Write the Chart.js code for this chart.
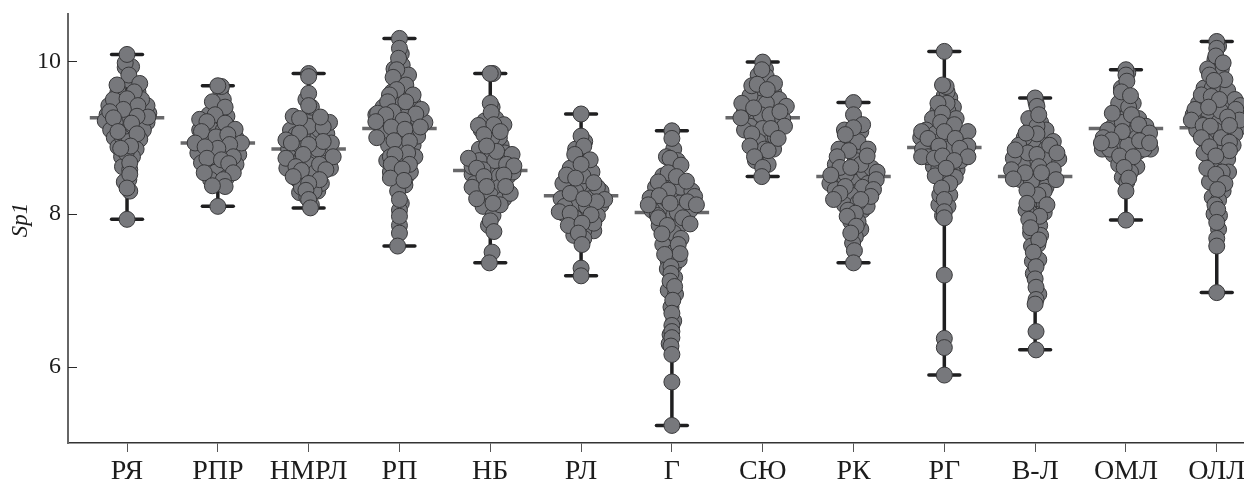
<!DOCTYPE html>
<html>
<head>
<meta charset="utf-8">
<title>Sp1</title>
<script src="https://cdn.jsdelivr.net/npm/chart.js@4/dist/chart.umd.min.js"></script>
<style>
html, body { margin: 0; padding: 0; background: #fff; }
#wrap { width: 1244px; height: 482px; position: relative; }
</style>
</head>
<body>
<div id="wrap"><canvas id="myChart"></canvas></div>
<script>
var categories = ['РЯ', 'РПР', 'НМРЛ', 'РП', 'НБ', 'РЛ', 'Г', 'СЮ', 'РК', 'РГ', 'В-Л', 'ОМЛ', 'ОЛЛ'];
var yTicks = [6, 8, 10];
var medians = [9.26, 8.93, 8.85, 9.12, 8.57, 8.24, 8.02, 9.26, 8.49, 8.87, 8.49, 9.12, 9.13];
var minima = [7.93, 8.10, 8.08, 7.58, 7.36, 7.19, 5.23, 8.49, 7.36, 5.89, 6.22, 7.92, 6.97];
var maxima = [10.09, 9.68, 9.84, 10.30, 9.84, 9.31, 9.09, 9.99, 9.46, 10.13, 9.52, 9.89, 10.26];

// each point is [offset from the category, Sp1]
var swarmRYa = [[-.08,9.15],[.08,9.35],[-.08,9.5],[.08,8.95],[0,9.25],[-.13,9.2],[.16,9.2],[-.22,9.3],[-.24,9.22],[.24,9.32],[.22,9.2],[-.2,9.42],[.22,9.42],[-.18,9.1],[.18,9.1],[-.14,9.0],[.14,8.98],[-.1,8.88],[.1,8.85],[-.06,8.75],[.06,8.75],[-.05,8.62],[.03,8.58],[.02,8.45],[-.03,8.42],[.03,8.3],[-.02,9.92],[.03,9.75],[-.1,9.6],[.12,9.6],[-.15,9.5],[.16,9.5],[.02,9.4],[.05,9.1],[-.05,9.0],[.02,8.95],[-.01,8.8],
  [.05,9.93],[-.02,9.98],[.02,9.82],[-.11,9.69],[.14,9.71],[.08,9.6],[0,9.51],[.12,9.42],[-.04,9.37],[-.19,9.34],[.23,9.27],[-.15,9.26],[.11,9.28],[.05,9.19],[-.1,9.08],[.11,9.05],[.04,8.89],[-.07,8.86],[.03,8.67],[.03,8.52],[0,8.34],[0,7.93],[0,10.09]];
var swarmRPR = [[.02,9.15],[-.06,9.1],[.14,9.0],[-.14,8.98],[.1,8.78],[-.08,8.8],[.02,8.62],[-.1,8.65],[.16,8.85],[-.18,8.85],[.1,9.15],[.03,9.62],[.06,9.5],[-.1,9.3],[.1,9.28],[-.2,9.1],[.2,9.0],[-.1,9.0],[.06,9.1],[-.22,8.8],[.23,8.78],[-.04,8.75],[.05,8.85],[-.12,8.55],[.2,8.65],[.07,8.6],[-.02,8.55],[.1,8.48],[-.08,8.45],[.04,8.4],
  [.04,9.67],[0,9.68],[-.06,9.47],[.08,9.4],[-.03,9.3],[-.2,9.24],[-.12,9.21],[.08,9.19],[.19,9.11],[-.18,9.08],[-.02,9.01],[.11,9.04],[-.25,8.93],[.26,8.93],[.13,8.91],[0,8.86],[-.14,8.88],[.17,8.75],[-.18,8.67],[-.12,8.73],[.04,8.71],[.12,8.66],[-.15,8.54],[.17,8.54],[.06,8.45],[.08,8.36],[-.06,8.37],[0,8.1]];
var swarmNMRL = [[.05,9.25],[-.05,9.05],[.05,9.05],[-.14,8.78],[.14,8.78],[.02,8.98],[-.03,8.55],[.06,8.68],[-.18,8.62],[.2,8.75],[0,8.42],[.1,8.3],[-.1,8.28],[-.2,8.85],[.1,9.0],[-.03,9.5],[.03,9.4],[-.1,9.1],[.12,9.1],[-.2,9.1],[.2,9.05],[0,9.15],[-.22,8.85],[.22,8.85],[.03,8.8],[-.1,8.9],[.1,8.85],[-.24,8.6],[.24,8.6],[0,8.65],[.08,8.55],[-.12,8.45],[.14,8.4],[-.08,8.35],[.06,8.3],[-.02,8.22],[.03,8.12],
  [0,9.84],[0,9.8],[0,9.58],[0,9.42],[-.17,9.28],[.23,9.2],[.16,9.14],[-.1,9.25],[.13,9.27],[-.14,9.04],[-.1,9.06],[-.25,8.97],[.25,8.93],[-.19,8.93],[.16,8.95],[0,8.91],[-.06,8.78],[-.25,8.73],[.27,8.75],[.12,8.65],[.19,8.58],[-.14,8.62],[-.08,8.57],[-.17,8.49],[.12,8.45],[0,8.4],[-.03,8.31],[0,8.19],[.02,8.08]];
var swarmRP = [[.05,9.3],[-.02,9.45],[.02,9.7],[-.06,9.9],[.08,9.6],[-.16,9.2],[.14,9.18],[-.14,9.0],[.15,8.9],[.02,8.95],[-.08,8.8],[.12,8.7],[0,8.65],[-.14,8.7],[-.06,8.55],[.08,8.5],[.02,10.1],[.03,9.95],[.1,9.82],[-.08,9.6],[.15,9.45],[-.18,9.4],[.2,9.25],[-.26,9.3],[.28,9.2],[-.2,9.05],[.2,9.02],[.08,9.0],[-.12,8.9],[-.1,8.75],[.02,8.85],[.17,8.75],[-.04,8.6],[.12,8.55],[-.1,8.55],[.06,8.38],[-.02,8.3],[.02,8.14],[0,8.05],[0,7.85],
  [0,10.3],[0,10.17],[-.01,10.04],[-.03,9.89],[-.07,9.79],[.07,9.69],[-.03,9.63],[.15,9.56],[-.11,9.56],[-.13,9.47],[.07,9.47],[.24,9.37],[.18,9.31],[-.24,9.32],[-.07,9.34],[-.15,9.3],[-.26,9.21],[.04,9.23],[.23,9.14],[-.09,9.14],[.06,9.11],[-.25,9.0],[.11,8.95],[-.06,8.96],[.09,8.8],[-.05,8.78],[.11,8.65],[-.09,8.65],[.03,8.59],[-.1,8.47],[.05,8.44],[0,8.19],[0,7.97],[0,7.75],[-.02,7.58]];
var swarmNB = [[-.06,9.22],[.06,9.25],[-.02,9.0],[.12,8.9],[-.12,8.85],[.02,8.55],[-.1,8.5],[.1,8.5],[-.2,8.52],[.2,8.5],[-.04,8.2],[.08,8.22],[.02,9.4],[-.1,9.1],[.1,9.0],[.02,9.0],[-.02,8.8],[-.2,8.62],[.16,8.8],[-.12,8.7],[.05,8.7],[.25,8.55],[-.08,8.58],[.1,8.35],[-.17,8.4],[0,8.25],[-.08,8.1],[.15,8.2],[.03,7.98],[-.02,7.85],
  [.03,9.84],[0,9.84],[0,9.45],[.01,9.33],[-.13,9.16],[.15,9.17],[.04,9.17],[.11,9.08],[-.07,9.04],[.07,8.82],[-.04,8.89],[.24,8.78],[-.24,8.73],[.18,8.65],[.26,8.63],[-.15,8.6],[.15,8.51],[-.07,8.49],[.22,8.27],[-.2,8.35],[-.04,8.36],[.17,8.36],[-.15,8.2],[.11,8.12],[.03,8.14],[0,7.91],[.04,7.77],[.02,7.5],[-.01,7.36]];
var swarmRL = [[0,8.75],[.05,8.55],[-.05,8.62],[-.14,8.42],[.1,8.35],[-.02,8.38],[-.14,8.2],[.22,8.3],[.02,8.02],[.1,8.2],[-.02,8.12],[-.08,8.13],[-.18,8.0],[.06,7.85],[.04,8.95],[-.06,8.85],[.08,8.7],[-.12,8.6],[.12,8.55],[-.2,8.4],[.18,8.35],[.02,8.5],[-.22,8.2],[.22,8.12],[-.06,8.3],[.06,8.1],[-.18,8.1],[.18,7.98],[-.07,7.95],[.14,7.78],[-.08,7.72],[.03,7.78],[.03,7.68],
  [0,9.31],[0,9.02],[.03,8.89],[.1,8.71],[-.07,8.78],[0,8.65],[-.16,8.51],[-.06,8.47],[.14,8.41],[.26,8.19],[-.12,8.27],[.17,8.16],[.03,8.2],[-.24,8.03],[-.12,8.01],[.14,7.88],[.11,7.99],[-.14,7.85],[.01,7.88],[-.03,7.75],[.01,7.6],[0,7.29],[0,7.19]];
var swarmG = [[0,8.55],[.05,8.3],[-.08,8.38],[0,8.2],[.1,8.15],[-.1,8.1],[.02,7.98],[.08,7.85],[-.02,7.65],[.05,7.62],[-.06,7.52],[.02,7.32],[.02,8.85],[-.06,8.75],[.06,8.7],[-.1,8.5],[.1,8.35],[-.18,8.35],[.22,8.3],[.2,8.05],[-.22,8.05],[-.06,8.2],[.06,8.02],[.12,7.95],[-.16,7.98],[.02,7.75],[-.14,7.85],[.1,7.68],[-.1,7.6],[.02,7.5],[-.04,7.38],[.08,7.4],[-.05,7.28],[.03,7.17],[-.04,7.0],[.04,6.95],[-.01,6.78],[.02,6.6],[-.02,6.42],[-.03,6.3],
  [0,9.09],[0,8.99],[-.02,8.73],[.1,8.64],[-.04,8.54],[.05,8.49],[.16,8.43],[-.15,8.42],[-.04,8.31],[.25,8.23],[-.24,8.21],[-.14,8.24],[.17,8.16],[-.26,8.12],[.27,8.12],[-.02,8.14],[-.15,7.95],[.2,7.87],[-.05,7.85],[-.11,7.74],[.07,7.6],[.09,7.48],[-.08,7.47],[-.01,7.31],[-.01,7.22],[-.02,7.12],[.03,7.05],[.01,6.87],[0,6.7],[0,6.54],[0,6.46],[0,6.38],[-.01,6.27],[0,6.16],[0,5.8],[0,5.23]];
var swarmSYu = [[0,9.6],[-.05,9.45],[.1,9.45],[-.1,9.22],[.12,9.2],[.02,9.05],[-.02,8.8],[-.18,9.25],[.04,8.95],[.03,9.9],[-.05,9.82],[.04,9.8],[.12,9.6],[-.14,9.55],[.18,9.5],[-.2,9.35],[.04,9.45],[-.02,9.3],[.08,9.3],[.22,9.25],[-.14,9.15],[0,9.12],[.14,9.0],[-.05,8.95],[-.2,9.1],[.12,8.85],[.02,8.85],[-.08,8.7],[.06,8.65],
  [0,9.99],[-.01,9.89],[-.12,9.68],[.13,9.71],[-.06,9.7],[.05,9.63],[-.23,9.45],[.26,9.41],[.19,9.34],[-.1,9.39],[-.24,9.26],[.24,9.15],[.09,9.12],[-.12,9.05],[.17,8.99],[-.14,8.89],[.06,8.83],[-.09,8.75],[0,8.61],[-.01,8.49]];
var swarmRK = [[.02,9.0],[-.06,8.85],[.06,8.8],[-.04,8.48],[.05,8.42],[.02,8.28],[-.12,8.55],[.12,8.55],[.16,8.4],[-.12,8.2],[.1,8.05],[-.14,8.42],[.08,7.8],[-.03,7.9],[.03,9.2],[.08,9.08],[-.1,9.1],[-.05,9.0],[.05,8.95],[-.16,8.85],[.16,8.85],[.02,8.7],[-.2,8.65],[.2,8.6],[.08,8.65],[-.26,8.4],[.26,8.55],[.1,8.35],[-.08,8.52],[-.2,8.32],[-.03,8.25],[.15,8.1],[-.1,8.12],[.05,8.15],[-.06,8.05],[.05,7.9],[.02,7.7],[-.01,7.62],
  [0,9.46],[0,9.3],[.1,9.17],[0,9.13],[-.09,9.04],[-.05,8.83],[.15,8.76],[-.18,8.75],[-.15,8.61],[-.03,8.61],[-.25,8.51],[.25,8.45],[.22,8.32],[-.09,8.36],[-.15,8.27],[.19,8.23],[-.22,8.19],[.08,8.19],[.02,8.01],[-.07,7.97],[.03,7.84],[-.03,7.75],[.01,7.52],[0,7.36]];
var swarmRG = [[0,9.55],[.06,9.52],[-.04,9.2],[.08,9.15],[-.14,9.0],[.14,8.85],[-.12,8.62],[.02,8.62],[.14,8.58],[-.02,8.42],[-.06,8.12],[.06,8.25],[.03,9.6],[-.07,9.35],[.1,9.4],[.04,9.35],[-.13,9.25],[.13,9.25],[-.2,9.1],[.2,9.0],[-.26,9.0],[-.1,9.05],[.05,9.0],[-.24,8.85],[.24,8.8],[-.05,8.95],[-.18,8.75],[.18,8.7],[.02,8.85],[-.06,8.6],[.09,8.55],[-.1,8.5],[.12,8.48],[.06,8.4],[-.05,8.25],[.04,8.1],[-.02,7.98],
  [0,10.13],[.02,9.67],[-.02,9.69],[.03,9.45],[-.07,9.45],[-.02,9.32],[-.04,9.2],[.11,9.17],[0,9.08],[-.25,9.08],[.26,9.08],[-.18,8.99],[.12,8.99],[.26,8.89],[-.06,8.89],[.17,8.86],[-.25,8.75],[.26,8.75],[-.11,8.73],[-.02,8.76],[.11,8.7],[.02,8.6],[-.03,8.34],[0,8.19],[0,8.03],[0,7.95],[0,7.2],[0,6.37],[0,6.25],[0,5.89]];
var swarmVL = [[.05,9.0],[-.05,9.1],[-.02,8.9],[.12,8.85],[-.12,8.82],[-.02,8.62],[-.14,8.65],[.14,8.62],[-.16,8.45],[.1,8.45],[.02,8.4],[-.02,8.2],[.1,8.15],[-.06,8.02],[.01,7.9],[.03,7.6],[-.03,7.38],[.01,9.46],[.06,9.2],[-.07,9.25],[-.12,9.0],[.12,9.1],[.02,9.15],[-.18,8.9],[.2,8.95],[-.24,8.73],[.26,8.72],[-.08,8.8],[.1,8.72],[-.26,8.58],[.12,8.35],[-.04,8.42],[.1,8.3],[.03,8.25],[-.1,8.05],[.1,8.02],[.05,7.85],[-.05,7.75],[.06,7.72],[-.04,7.58],[.04,7.4],[-.02,7.22],[.04,6.95],
  [0,9.52],[.02,9.41],[.04,9.3],[.02,9.05],[-.1,9.06],[.16,8.9],[-.22,8.84],[.24,8.8],[.02,8.78],[.04,8.62],[.2,8.58],[.07,8.54],[-.11,8.54],[-.24,8.46],[.23,8.45],[-.09,8.31],[-.09,8.14],[.13,8.12],[.05,7.97],[-.07,7.93],[-.05,7.82],[.04,7.66],[-.02,7.5],[.01,7.31],[0,7.15],[.01,7.04],[.01,6.88],[0,6.82],[.01,6.46],[.01,6.22]];
var swarmOML = [[.02,9.45],[-.02,9.25],[.08,9.2],[-.1,9.1],[.08,8.95],[-.2,9.0],[.2,9.0],[-.04,8.95],[-.02,8.8],[.14,8.82],[-.14,8.78],[.02,8.55],[.02,9.85],[-.05,9.65],[.08,9.45],[-.08,9.45],[.14,9.25],[-.14,9.15],[.03,9.4],[-.2,9.1],[.22,9.15],[-.04,9.2],[.06,9.05],[-.26,8.85],[.27,8.85],[-.12,8.9],[.12,9.0],[.02,8.9],[-.18,8.85],[.2,8.85],[-.08,8.65],[.12,8.62],[.02,8.7],[-.04,8.48],[.05,8.55],[.01,8.42],
  [0,9.89],[0,9.82],[.01,9.74],[-.05,9.6],[.05,9.55],[-.15,9.32],[.06,9.3],[.14,9.17],[.26,9.06],[-.25,9.0],[-.04,9.08],[-.16,8.97],[.15,8.96],[.26,8.93],[-.27,8.93],[-.07,8.76],[.08,8.75],[-.02,8.61],[.03,8.47],[0,8.3],[0,7.92]];
var swarmOLL = [[0,9.5],[.1,9.4],[-.1,9.28],[.02,9.2],[.16,9.05],[-.08,9.0],[.03,8.85],[-.18,9.18],[.08,8.62],[-.03,8.42],[.03,7.98],[.02,10.2],[-.02,10.02],[.05,9.9],[-.1,9.9],[.12,9.62],[-.14,9.65],[.2,9.5],[-.05,9.65],[-.2,9.45],[.26,9.42],[.04,9.35],[-.26,9.3],[.28,9.15],[-.22,9.1],[.2,9.05],[-.02,9.1],[-.12,8.95],[.05,9.0],[.18,8.9],[-.14,8.8],[.12,8.72],[-.06,8.62],[.13,8.55],[.06,8.55],[-.08,8.42],[.07,8.3],[-.05,8.22],[.02,8.18],[-.03,8.0],[.02,7.8],
  [0,10.26],[0,10.17],[-.01,10.07],[.07,9.98],[-.08,9.82],[.09,9.76],[-.03,9.75],[-.17,9.56],[-.06,9.54],[.03,9.5],[-.24,9.37],[.21,9.37],[-.09,9.4],[-.28,9.23],[.25,9.23],[.12,9.27],[-.15,9.16],[.14,9.16],[-.07,9.15],[-.17,9.0],[.14,8.94],[.14,8.83],[-.08,8.88],[-.01,8.76],[-.11,8.6],[-.01,8.52],[.09,8.4],[.01,8.32],[-.02,8.12],[.01,8.06],[0,7.89],[0,7.68],[0,7.58],[0,6.97]];

var swarms = [swarmRYa, swarmRPR, swarmNMRL, swarmRP, swarmNB, swarmRL, swarmG, swarmSYu, swarmRK, swarmRG, swarmVL, swarmOML, swarmOLL];

var capHalf = 0.17;
var medianHalf = 0.41;
var datasets = [];

function lineSet(points, color, width, order, cap) {
    return {
        data: points,
        showLine: true,
        borderColor: color,
        borderWidth: width,
        borderCapStyle: cap,
        pointRadius: 0,
        order: order
    };
}

categories.forEach(function(name, i) {
    datasets.push(lineSet([{x: i - medianHalf, y: medians[i]}, {x: i + medianHalf, y: medians[i]}], '#68686a', 3.5, 3, 'butt'));
    datasets.push(lineSet([{x: i, y: minima[i]}, {x: i, y: maxima[i]}], '#1f1f20', 3.5, 2, 'butt'));
    datasets.push(lineSet([{x: i - capHalf, y: minima[i]}, {x: i + capHalf, y: minima[i]}], '#1f1f20', 3.5, 2, 'round'));
    datasets.push(lineSet([{x: i - capHalf, y: maxima[i]}, {x: i + capHalf, y: maxima[i]}], '#1f1f20', 3.5, 2, 'round'));
    datasets.push({
        label: name,
        data: swarms[i].map(function(p) { return {x: i + p[0], y: p[1]}; }),
        showLine: false,
        pointRadius: 8,
        pointBorderWidth: 1,
        pointBackgroundColor: '#77787c',
        pointBorderColor: '#38383a',
        clip: false,
        order: 1
    });
});

// the y ticks of the original point inwards
var inwardTicks = {
    id: 'inwardTicks',
    afterDatasetsDraw: function(chart) {
        var ctx = chart.ctx;
        var scale = chart.scales.y;
        ctx.save();
        ctx.strokeStyle = '#2a2a2a';
        ctx.lineWidth = 1;
        yTicks.forEach(function(t) {
            var y = Math.round(scale.getPixelForValue(t)) + 0.5;
            ctx.beginPath();
            ctx.moveTo(scale.right, y);
            ctx.lineTo(scale.right + 9, y);
            ctx.stroke();
        });
        ctx.restore();
    }
};

var serif = '"Liberation Serif", "DejaVu Serif", serif';

new Chart(document.getElementById('myChart'), {
    type: 'scatter',
    data: {datasets: datasets},
    plugins: [inwardTicks],
    options: {
        responsive: true,
        maintainAspectRatio: false,
        animation: false,
        layout: {padding: {top: 14, left: 0, right: 0, bottom: 0}, autoPadding: false},
        plugins: {legend: {display: false}, tooltip: {enabled: false}},
        scales: {
            x: {
                type: 'linear',
                min: -0.65,
                max: 12.3,
                afterFit: function(scale) {
                    scale.height = 39;
                    scale.paddingLeft = 0;
                    scale.paddingRight = 0;
                },
                afterBuildTicks: function(scale) {
                    scale.ticks = categories.map(function(c, i) { return {value: i}; });
                },
                grid: {drawOnChartArea: false, drawTicks: true, tickLength: 9, tickColor: '#555', tickWidth: 1},
                border: {color: '#333', width: 1.5},
                ticks: {
                    autoSkip: false,
                    maxRotation: 0,
                    padding: 3,
                    color: '#1c1c1c',
                    font: {family: serif, size: 28},
                    callback: function(value) { return categories[value]; }
                }
            },
            y: {
                type: 'linear',
                min: 5,
                max: 10.62,
                afterFit: function(scale) {
                    scale.width = 68;
                    scale.paddingTop = 0;
                    scale.paddingBottom = 0;
                },
                afterBuildTicks: function(scale) {
                    scale.ticks = yTicks.map(function(t) { return {value: t}; });
                },
                grid: {drawOnChartArea: false, drawTicks: false},
                border: {color: '#666', width: 2},
                title: {
                    display: true,
                    text: '   Sp1',
                    color: '#1c1c1c',
                    font: {family: serif, size: 23, style: 'italic'},
                    padding: {top: 7, bottom: 0}
                },
                ticks: {
                    padding: 7,
                    color: '#1c1c1c',
                    font: {family: serif, size: 24}
                }
            }
        }
    }
});
</script>
</body>
</html>
